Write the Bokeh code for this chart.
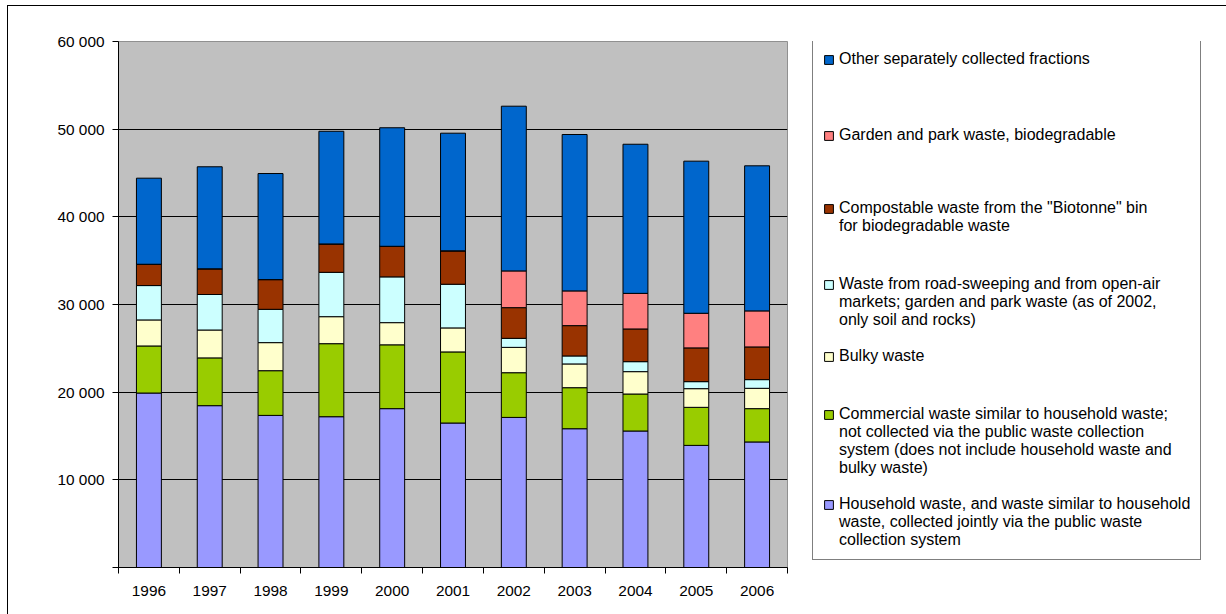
from bokeh.plotting import figure
from bokeh.layouts import row
from bokeh.models import FixedTicker, Legend, LegendItem, Range1d, ColumnDataSource
from bokeh.embed import file_html
from bokeh.resources import INLINE

years = ["1996", "1997", "1998", "1999", "2000", "2001", "2002", "2003", "2004", "2005", "2006"]

household = [19900, 18460, 17350, 17200, 18120, 16480, 17120, 15830, 15570, 13930, 14320]
commercial = [5370, 5450, 5100, 8330, 7280, 8110, 5100, 4680, 4220, 4340, 3800]
bulky = [2970, 3180, 3200, 3080, 2530, 2740, 2890, 2710, 2550, 2130, 2320]
street = [3920, 4050, 3800, 5060, 5220, 4980, 1030, 910, 1140, 800, 990]
biotonne = [2430, 2930, 3390, 3240, 3490, 3810, 3500, 3460, 3730, 3850, 3730]
garden = [0, 0, 0, 0, 0, 0, 4190, 3960, 4060, 3950, 4110]
other = [9820, 11640, 12100, 12850, 13520, 13420, 18790, 17840, 17010, 17350, 16550]

series_keys = ["household", "commercial", "bulky", "street", "biotonne", "garden", "other"]
series_labels = [
    ["Household waste, and waste similar to household", "waste, collected jointly via the public waste", "collection system"],
    ["Commercial waste similar to household waste;", "not collected via the public waste collection", "system (does not include household waste and", "bulky waste)"],
    ["Bulky waste"],
    ["Waste from road-sweeping and from open-air", "markets; garden and park waste (as of 2002,", "only soil and rocks)"],
    ["Compostable waste from the \"Biotonne\" bin", "for biodegradable waste"],
    ["Garden and park waste, biodegradable"],
    ["Other separately collected fractions"],
]
series_colors = ["#9999FF", "#99CC00", "#FFFFCC", "#CCFFFF", "#993300", "#FF8080", "#0066CC"]
# spacer rows after each legend entry: (tall rows, short rows)
legend_gap = [(0, 0), (1, 0), (1, 2), (1, 0), (1, 2), (0, 5), (2, 2)]

y_ticks = [0, 10000, 20000, 30000, 40000, 50000, 60000]
y_tick_labels = ["", "10 000", "20 000", "30 000", "40 000", "50 000", "60 000"]

FONT = "Liberation Sans"

xpos = [i + 0.5 for i in range(len(years))]
src = ColumnDataSource(dict(x=xpos, household=household, commercial=commercial, bulky=bulky,
                            street=street, biotonne=biotonne, garden=garden, other=other))

p = figure(width=792, height=608, x_range=Range1d(0, len(years)), y_range=Range1d(0, 60000),
           output_backend="svg", toolbar_location=None,
           min_border_left=110, min_border_top=35, min_border_bottom=47, min_border_right=13)
p.background_fill_color = "#C0C0C0"
p.border_fill_color = "white"
p.outline_line_color = "#909090"

renderers = p.vbar_stack(series_keys, x="x", width=0.41, source=src,
                         fill_color=series_colors, line_color="black", line_width=1)

p.xgrid.visible = False
p.ygrid.ticker = FixedTicker(ticks=y_ticks)
p.ygrid.grid_line_color = "black"
p.ygrid.grid_line_width = 1

yax = p.yaxis[0]
yax.ticker = FixedTicker(ticks=y_ticks)
yax.major_label_overrides = {t: l for t, l in zip(y_ticks, y_tick_labels)}
yax.major_tick_out = 6
yax.major_tick_in = 0
yax.minor_tick_line_color = None
yax.major_label_standoff = 8
yax.axis_line_color = "black"
yax.major_tick_line_color = "black"
yax.major_label_text_font = FONT
yax.major_label_text_font_size = "15.4px"
yax.major_label_text_color = "black"

xax = p.xaxis[0]
xax.ticker = FixedTicker(ticks=xpos, minor_ticks=list(range(len(years) + 1)))
xax.major_label_overrides = {x: y for x, y in zip(xpos, years)}
xax.major_tick_line_color = None
xax.major_tick_out = 0
xax.major_tick_in = 0
xax.minor_tick_out = 6
xax.minor_tick_in = 0
xax.minor_tick_line_color = "black"
xax.axis_line_color = "black"
xax.major_label_standoff = 12
xax.major_label_text_font = FONT
xax.major_label_text_font_size = "15.4px"
xax.major_label_text_color = "black"

# legend panel: its stacked bars only serve as legend swatches and sit behind the opaque legend box
q = figure(width=426, height=608, x_range=Range1d(-1, 12.5), y_range=Range1d(-2000, 60000),
           output_backend="svg", toolbar_location=None, x_axis_type=None, y_axis_type=None,
           min_border=0, min_border_left=0, min_border_right=0)
q.grid.visible = False
q.outline_line_color = None
q.background_fill_color = None
q.border_fill_color = None

swatches = q.vbar_stack(series_keys, x="x", width=0.41, source=src,
                        fill_color=series_colors, line_color="black", line_width=1)
blank = q.vbar(x=[], top=[], width=0.1, fill_alpha=0, line_alpha=0)

items = []
for i in reversed(range(len(series_keys))):
    lines = series_labels[i]
    items.append(LegendItem(label=lines[0], renderers=[swatches[i]]))
    for ln in lines[1:]:
        items.append(LegendItem(label=ln, renderers=[blank]))
    tall, short = legend_gap[i]
    for _ in range(tall):
        items.append(LegendItem(label="\u200b", renderers=[blank]))
    for _ in range(short):
        items.append(LegendItem(label=" ", renderers=[blank]))

legend = Legend(items=items, location=(12, 7), orientation="vertical",
                glyph_width=11, glyph_height=11, label_height=1, label_standoff=5, padding=10, spacing=0,
                margin=0, border_line_color="black", border_line_width=1,
                background_fill_color="white", background_fill_alpha=1.0,
                label_text_font=FONT, label_text_font_size="16px", label_text_color="black",
                label_text_line_height=1.15)
q.add_layout(legend, "center")

layout = row(p, q, styles={"border-left": "1px solid black", "border-top": "1px solid black",
                           "margin-left": "7px", "margin-top": "5px"})

open("out.html", "w").write(file_html(layout, INLINE))
